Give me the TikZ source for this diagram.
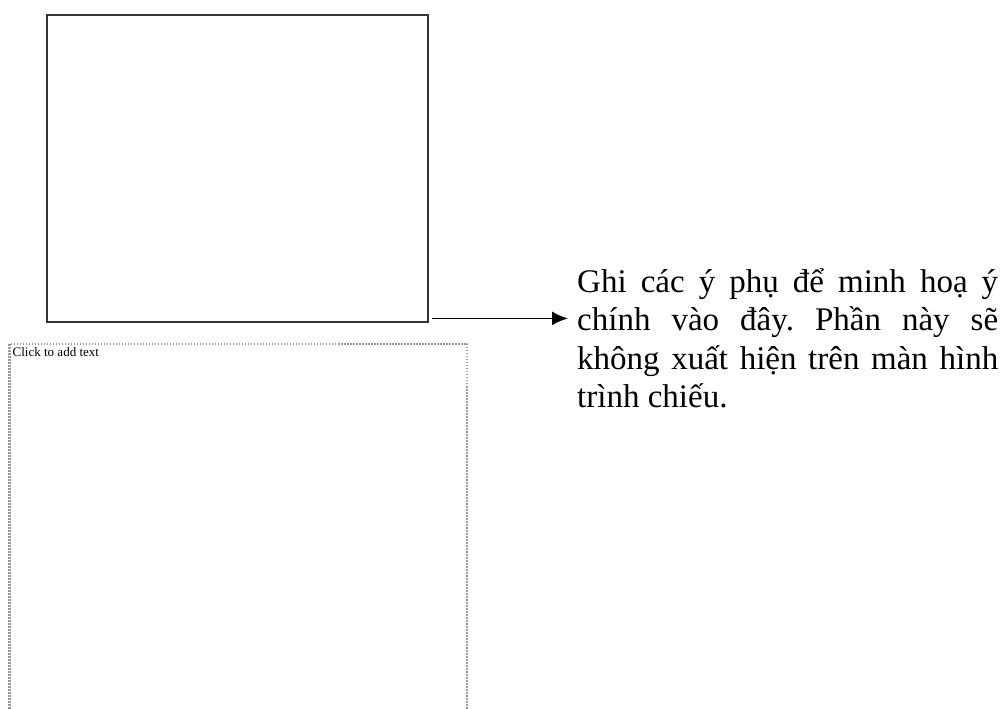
\documentclass[tikz,border=0pt]{standalone}
\usepackage{fontspec}
\setmainfont{Liberation Serif}
\usetikzlibrary{arrows.meta}
\definecolor{slideborder}{HTML}{333333}
\definecolor{notesborder}{HTML}{9A9A9A}
\tikzset{
  slidebox/.style={draw=slideborder, line width=2.8pt, inner sep=0pt, rectangle},
  notesbox/.style={draw=notesborder, line width=2.2pt, dash pattern=on 1.5pt off 1.5pt, inner sep=0pt, rectangle},
  pointer/.style={line width=1.8pt, -{Latex[length=16pt,width=14pt]}},
  bigtext/.style={inner sep=0pt, anchor=north west, align=left, font=\fontsize{33}{38.5}\selectfont},
  smalltext/.style={inner sep=0pt, anchor=base west, font=\fontsize{13}{15}\selectfont}
}
\frenchspacing
\begin{document}
\begin{tikzpicture}[x=1pt,y=-1pt]
\clip (0,0) rectangle (1002,709);
\fill[white] (0,0) rectangle (1002,709);
\node[slidebox, minimum width=381pt, minimum height=307pt] (slide) at (237.5,168.5) {};
\node[notesbox, minimum width=457.5pt, minimum height=420pt] (notes) at (238.25,554) {};
\node[smalltext] (clicktext) at (12.5,356) {Click to add text};
\node[bigtext] (info) at (577,259) {%
\makebox[421pt][s]{\rule{0pt}{33pt}Ghi các ý phụ để minh hoạ ý}\\
\makebox[421pt][s]{chính vào đây. Phần này sẽ}\\
\makebox[421pt][s]{không xuất hiện trên màn hình}\\
trình chiếu.};
\coordinate (start) at ([yshift=5pt,xshift=3pt]slide.south east);
\coordinate (tip) at (568,318);
\draw[pointer] (start) -- (start -| tip);
\end{tikzpicture}
\end{document}
